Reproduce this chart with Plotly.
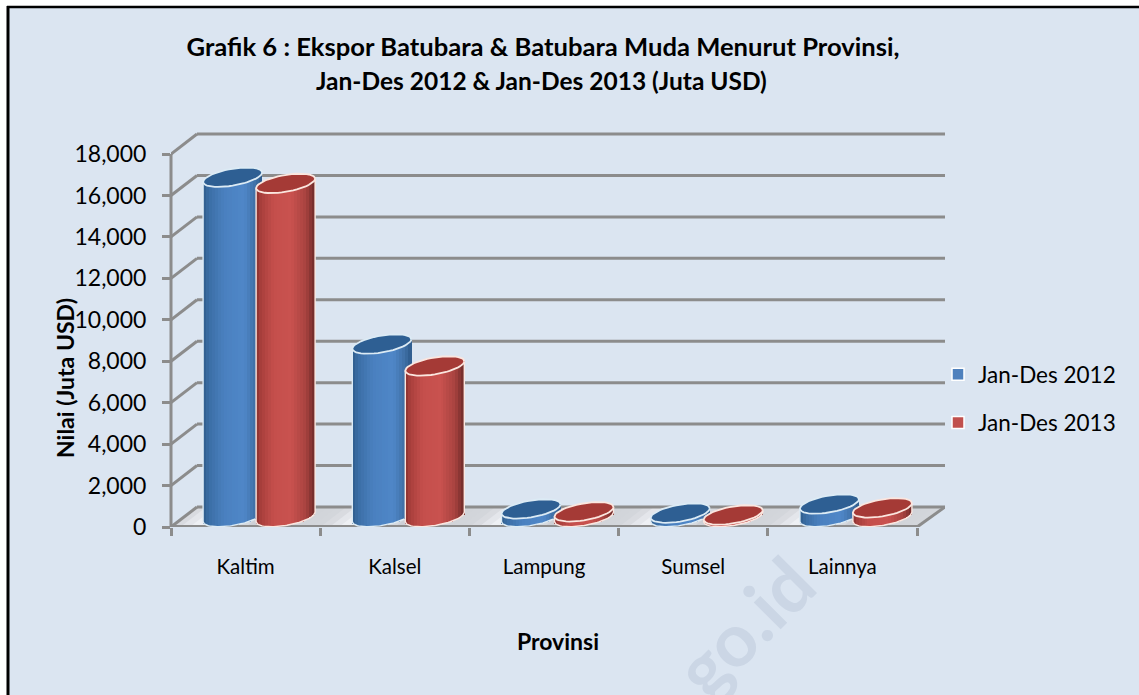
import math
import plotly.graph_objects as go

categories = ["Kaltim", "Kalsel", "Lampung", "Sumsel", "Lainnya"]
series_2012 = [16400, 8350, 390, 190, 630]
series_2013 = [16100, 7290, 250, 100, 440]
y_ticks = [0, 2000, 4000, 6000, 8000, 10000, 12000, 14000, 16000, 18000]
y_ticktext = ["0", "2,000", "4,000", "6,000", "8,000", "10,000", "12,000", "14,000", "16,000", "18,000"]

W, H = 1139, 695
LEFT, RIGHT, TOP, BASE = 171, 945, 128, 527
XPX = 149.2          # pixels per category
YPX = 0.02072        # pixels per unit of value
XMAX = (RIGHT - LEFT) / XPX
YMAX = (BASE - TOP) / YPX
ux = lambda px: px / XPX
uy = lambda px: px / YPX
GRID = "#8c8c8c"
BG = "#dbe5f1"
FONT = "Lato"

DEPTH_X, DEPTH_Y = ux(26), uy(20)
A, B, K = 29.5, 8.5, 0.16      # cylinder semi-axes (px) and tilt
CYL_Y = uy(10)                 # floor depth of cylinder centres
OFF = [ux(13.5 - 26.5), ux(13.5 + 26.5)]
N = 20

BLUE = [(0, "#2f5d8c"), (.1, "#3b6ea5"), (.35, "#4a80bf"), (.7, "#4f87c8"), (.9, "#3f6fa5"), (1, "#2c5a8a")]
RED = [(0, "#8a3230"), (.08, "#a83f3c"), (.3, "#c54f4c"), (.6, "#c9524f"), (.85, "#a8423f"), (1, "#6f2b29")]


def shade(stops, t):
    for (t0, c0), (t1, c1) in zip(stops, stops[1:]):
        if t <= t1:
            f = (t - t0) / (t1 - t0)
            rgb = [round(int(c0[i:i + 2], 16) * (1 - f) + int(c1[i:i + 2], 16) * f) for i in (1, 3, 5)]
            return "rgb(%d,%d,%d)" % tuple(rgb)
    return stops[-1][1]


def pxp(px):
    return (px - LEFT) / (RIGHT - LEFT)


def pyp(py):
    return (BASE - py) / (BASE - TOP)


fig = go.Figure()
centres = [i + 0.5 for i in range(len(categories))]
specs = [("Jan-Des 2012", series_2012, BLUE, "#4f81bd", "#2e5f93", "#dcebf5"),
         ("Jan-Des 2013", series_2013, RED, "#c0504d", "#a53a36", "#fbe6df")]

for s, (name, values, stops, main, cap, edge) in enumerate(specs):
    xs = [c + OFF[s] for c in centres]
    fig.add_trace(go.Bar(x=xs, y=values, base=[CYL_Y] * 5, width=ux(A), name=name,
                         legendgroup=name, marker=dict(color=main, line=dict(color="white", width=1.5)),
                         hoverinfo="skip"))
    for k in range(N):
        t = (k + 0.5) / N
        dx = (t * 2 - 1) * A
        sq = math.sqrt(max(0, 1 - (dx / A) ** 2))
        fig.add_trace(go.Bar(x=[x + ux(dx) for x in xs],
                             y=[v + uy(B * sq) for v in values],
                             base=[CYL_Y + uy(K * dx - B * sq)] * 5,
                             width=ux(2 * A / N + 0.4), showlegend=False, legendgroup=name,
                             marker=dict(color=shade(stops, t), line=dict(width=0)), hoverinfo="skip"))

# Outline of the body and the cap of every cylinder
for s, (name, values, stops, main, cap, edge) in enumerate(specs):
    ex, ey, ox, oy = [], [], [], []
    xs = [c + OFF[s] for c in centres]
    for x, v in zip(xs, values):
        for i in range(49):
            th = 2 * math.pi * i / 48
            ex.append(x + ux(A * math.cos(th)))
            ey.append(CYL_Y + v + uy(K * A * math.cos(th) + B * math.sin(th)))
        ex.append(None)
        ey.append(None)
        # left side, lower arc, right side
        dx_end = A if s == 1 else 22.5
        ox.append(x - ux(A))
        oy.append(CYL_Y + v - uy(K * A))
        for i in range(41):
            dx = -A + (dx_end + A) * i / 40
            sq = math.sqrt(max(0, 1 - (dx / A) ** 2))
            ox.append(x + ux(dx))
            oy.append(CYL_Y + uy(K * dx - B * sq))
        if s == 1:
            ox.append(x + ux(A))
            oy.append(CYL_Y + v + uy(K * A))
        ox.append(None)
        oy.append(None)
    fig.add_trace(go.Scatter(x=ox, y=oy, mode="lines", line=dict(color=edge, width=1.4),
                             showlegend=False, hoverinfo="skip"))
    fig.add_trace(go.Scatter(x=ex, y=ey, mode="lines", fill="toself", fillcolor=cap,
                             line=dict(color=edge, width=1.8), showlegend=False, hoverinfo="skip"))

# Page margin and frame
shapes = [
    dict(type="rect", xref="paper", yref="paper", x0=pxp(0), x1=pxp(7), y0=pyp(H), y1=pyp(0),
         fillcolor="white", line_width=0, layer="below"),
    dict(type="rect", xref="paper", yref="paper", x0=pxp(0), x1=pxp(W), y0=pyp(6), y1=pyp(0),
         fillcolor="white", line_width=0, layer="below"),
    dict(type="line", xref="paper", yref="paper", x0=pxp(8), x1=pxp(8), y0=pyp(H), y1=pyp(6),
         line=dict(color="black", width=3), layer="below"),
    dict(type="line", xref="paper", yref="paper", x0=pxp(7), x1=pxp(W), y0=pyp(7), y1=pyp(7),
         line=dict(color="black", width=2.5), layer="below"),
]

# Floor of the 3-D box: soft shading, then its edges
FLOOR = [(0, "#d3d6db"), (.15, "#eef0f4"), (.3, "#eef0f4"), (.62, "#c0c4ca"), (.8, "#d0d3d8"), (1, "#d3d6db")]
STRIPS = 16
n = len(categories)
for i in range(n):
    for j in range(STRIPS):
        a0, a1 = i + j / STRIPS, i + (j + 1.3) / STRIPS
        t = (j + .5) / STRIPS
        shapes.append(dict(type="path", xref="x", yref="y", layer="below", line_width=0,
                           fillcolor=shade(FLOOR, t),
                           path=f"M{a0},0 L{a1},0 L{a1 + DEPTH_X},{DEPTH_Y} L{a0 + DEPTH_X},{DEPTH_Y} Z"))
# Walls: a diagonal and a horizontal run for every gridline
for v in y_ticks:
    shapes.append(dict(type="line", xref="x", yref="y", x0=0, x1=DEPTH_X, y0=v, y1=v + DEPTH_Y,
                       line=dict(color=GRID, width=3), layer="below"))
    shapes.append(dict(type="line", xref="x", yref="y", x0=DEPTH_X, x1=XMAX, y0=v + DEPTH_Y, y1=v + DEPTH_Y,
                       line=dict(color=GRID, width=3), layer="below"))
shapes += [
    dict(type="line", xref="x", yref="y", x0=n, x1=XMAX, y0=0, y1=DEPTH_Y, line=dict(color=GRID, width=3), layer="below"),
    dict(type="line", xref="x", yref="y", x0=0, x1=n, y0=0, y1=0, line=dict(color=GRID, width=4), layer="below"),
    dict(type="line", xref="paper", yref="y", x0=0, x1=0, y0=0, y1=y_ticks[-1], line=dict(color=GRID, width=3), layer="below"),
]

annotations = [
    dict(text="Jan-Des 2012 &amp; Jan-Des 2013 (Juta USD)", xref="paper", yref="paper", x=pxp(541), y=pyp(81),
         showarrow=False, font=dict(family=FONT, size=24.5, color="black", weight="bold"), xanchor="center", yanchor="middle"),
    dict(text="Nilai (Juta USD)", xref="paper", yref="paper", x=pxp(65), y=pyp(378), textangle=-90,
         showarrow=False, font=dict(family=FONT, size=23, color="black", weight="bold"), xanchor="center", yanchor="middle"),
    dict(text="go.id", xref="paper", yref="paper", x=pxp(743), y=pyp(626), textangle=-45,
         showarrow=False, font=dict(family=FONT, size=74, color="#cbd6e5", weight="bold"), xanchor="center", yanchor="middle"),
]

fig.update_layout(
    width=W, height=H, margin=dict(l=LEFT, r=W - RIGHT, t=TOP, b=H - BASE, pad=0),
    paper_bgcolor=BG, plot_bgcolor="rgba(0,0,0,0)", barmode="overlay", bargap=0,
    font=dict(family=FONT, color="black"),
    title=dict(text="Grafik 6 : Ekspor Batubara &amp; Batubara Muda Menurut Provinsi,", x=543 / W, xanchor="center",
               y=1 - 47 / H, yanchor="middle", font=dict(family=FONT, size=25.6, color="black", weight="bold")),
    showlegend=True,
    legend=dict(x=pxp(938), y=pyp(353), xanchor="left", yanchor="top", bgcolor="rgba(0,0,0,0)",
                tracegroupgap=16, font=dict(family=FONT, size=22.5, color="black"), itemclick=False),
    xaxis=dict(range=[0, XMAX], tickmode="array", tickvals=centres, ticktext=categories, ticks="",
               showgrid=False, zeroline=False, showline=False, ticklabelstandoff=25,
               tickfont=dict(family=FONT, size=20.5, color="black"),
               minor=dict(tickmode="array", tickvals=list(range(n + 1)), ticks="outside", ticklen=8, tickwidth=2.5,
                          tickcolor=GRID, showgrid=False),
               title=dict(text="Provinsi", font=dict(family=FONT, size=23, color="black", weight="bold"), standoff=57)),
    yaxis=dict(range=[0, YMAX], tickmode="array", tickvals=y_ticks, ticktext=y_ticktext, ticks="outside",
               ticklen=8, tickwidth=2.5, tickcolor=GRID, showgrid=False, zeroline=False, showline=False,
               tickfont=dict(family=FONT, size=23, color="black"), ticklabelstandoff=11),
    shapes=shapes, annotations=annotations,
)

fig.write_html("out.html", config=dict(displayModeBar=False),
               post_script="document.body.style.margin='0';document.body.style.overflow='hidden';")
